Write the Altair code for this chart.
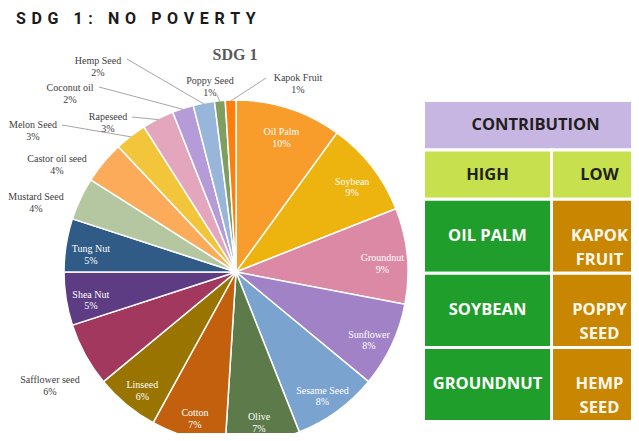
import math
import altair as alt
import pandas as pd

# ---------------- data ----------------
crops = ["Oil Palm", "Soybean", "Groundnut", "Sunflower", "Sesame Seed", "Olive",
         "Cotton", "Linseed", "Safflower seed", "Shea Nut", "Tung Nut", "Mustard Seed",
         "Castor oil seed", "Melon Seed", "Rapeseed", "Coconut oil", "Hemp Seed",
         "Poppy Seed", "Kapok Fruit"]
shares = [10, 9, 9, 8, 8, 7, 7, 6, 6, 5, 5, 4, 4, 3, 3, 2, 2, 1, 1]
slice_colors = ["#F89C2B", "#EDB410", "#DB89A4", "#A282C6", "#7BA3CF", "#5D7A4A",
                "#C2600E", "#997400", "#A3385E", "#5E3C84", "#2F5B86", "#B5C7A0",
                "#FBAB5A", "#F2C53A", "#E4A6BC", "#B59BD7", "#97B6DA", "#7E9E62",
                "#FF7D0A"]
outside = ["Safflower seed", "Mustard Seed", "Castor oil seed", "Melon Seed", "Rapeseed",
           "Coconut oil", "Hemp Seed", "Poppy Seed", "Kapok Fruit"]

table_header = "CONTRIBUTION"
table_cols = ["HIGH", "LOW"]
high_items = ["OIL PALM", "SOYBEAN", "GROUNDNUT"]
low_items = ["KAPOK\nFRUIT", "POPPY\nSEED", "HEMP\nSEED"]

page_title = "SDG 1: NO POVERTY"
pie_title = "SDG 1"

# ---------------- layout ----------------
W, H = 623, 425
CX, CY, R = 228, 264, 172
NB = "\u00a0"
SEP = NB + "\u200a"
spaced_title = SEP.join(NB if ch == " " else ch for ch in page_title)

# outside label anchors (chart px): label centre, leader-line start (None = no line)
LABEL_LAYOUT = {
    "Safflower seed": (42, 372, None),
    "Mustard Seed": (28, 189, None),
    "Castor oil seed": (49, 151, None),
    "Melon Seed": (25, 117, (54, 117)),
    "Rapeseed": (100, 109, (124, 109)),
    "Coconut oil": (62, 80, (91, 79)),
    "Hemp Seed": (90, 53, (119, 51)),
    "Poppy Seed": (202, 73, (209, 87)),
    "Kapok Fruit": (290, 70, (258, 70)),
}

pie_df = pd.DataFrame({"crop": crops, "share": shares, "order": list(range(len(crops)))})
pie_df["inner"] = [("" if c in outside else f"{c}\n{s}%") for c, s in zip(crops, shares)]

color_scale = alt.Scale(domain=crops, range=slice_colors)

base = alt.Chart(pie_df)
arcs = base.mark_arc(outerRadius=R, stroke="white", strokeWidth=1.5).encode(
    theta=alt.Theta("share:Q", stack=True),
    order=alt.Order("order:Q"),
    color=alt.Color("crop:N", scale=color_scale, legend=None),
    x=alt.value(CX), y=alt.value(CY),
)
inner_text = base.mark_text(radius=147, font="Liberation Serif", fontSize=10,
                            color="white", lineBreak="\n", lineHeight=11.5,
                            baseline="middle", align="center").encode(
    theta=alt.Theta("share:Q", stack=True),
    order=alt.Order("order:Q"),
    text="inner:N",
    x=alt.value(CX), y=alt.value(CY),
)

# outside labels + leader lines
cum = 0
mids = {}
for c, s in zip(crops, shares):
    mids[c] = (cum + s / 2) / 100.0
    cum += s
rows, lines = [], []
for c in outside:
    lx, ly, start = LABEL_LAYOUT[c]
    s = shares[crops.index(c)]
    rows.append({"label": f"{c}\n{s}%", "x": lx, "y": ly})
    if start is not None:
        a = mids[c] * 2 * math.pi
        ex = CX + (R - 1) * math.sin(a)
        ey = CY - (R - 1) * math.cos(a)
        lines.append({"x": start[0], "y": start[1], "x2": ex, "y2": ey})
out_df = pd.DataFrame(rows)
line_df = pd.DataFrame(lines)

leaders = alt.Chart(line_df).mark_rule(color="#A6A6A6", strokeWidth=1).encode(
    x=alt.X("x:Q", scale=None), y=alt.Y("y:Q", scale=None),
    x2="x2:Q", y2="y2:Q",
)
outer_text = alt.Chart(out_df).mark_text(font="Liberation Serif", fontSize=10,
                                         color="#404040", lineBreak="\n", lineHeight=11.5,
                                         baseline="middle", align="center").encode(
    x=alt.X("x:Q", scale=None), y=alt.Y("y:Q", scale=None), text="label:N",
)

# ---------------- table ----------------
cells = [{"text": table_header, "x0": 0, "x1": 7, "y0": 0, "y1": 2, "kind": "head"},
         {"text": table_cols[0], "x0": 0, "x1": 4, "y0": 2, "y1": 4, "kind": "sub"},
         {"text": table_cols[1], "x0": 4, "x1": 7, "y0": 2, "y1": 4, "kind": "sub"}]
for i, (h, l) in enumerate(zip(high_items, low_items)):
    cells.append({"text": h, "x0": 0, "x1": 4, "y0": 4 + 3 * i, "y1": 7 + 3 * i, "kind": "high"})
    cells.append({"text": l, "x0": 4, "x1": 7, "y0": 4 + 3 * i, "y1": 7 + 3 * i, "kind": "low"})
cell_df = pd.DataFrame(cells)
cell_df["xm"] = (cell_df.x0 + cell_df.x1) / 2
cell_df["ym"] = (cell_df.y0 + cell_df.y1) / 2

xs = alt.Scale(domain=[0, 7], range=[415.5, 639.5])
ys = alt.Scale(domain=[0, 13], range=[92.5, 413.5])
kinds = ["head", "sub", "high", "low"]
fill_scale = alt.Scale(domain=kinds, range=["#C8B6E2", "#C6E04E", "#1F9E2B", "#C98600"])
text_scale = alt.Scale(domain=kinds, range=["#231F20", "#231F20", "#FFFFFF", "#FFF8EE"])

tbase = alt.Chart(cell_df)
trects = tbase.mark_rect(stroke="white", strokeWidth=3).encode(
    x=alt.X("x0:Q", scale=xs, axis=None), x2="x1:Q",
    y=alt.Y("y0:Q", scale=ys, axis=None), y2="y1:Q",
    fill=alt.Fill("kind:N", scale=fill_scale, legend=None),
)
ttext = tbase.mark_text(font="Open Sans", fontWeight="bold", fontSize=16.5,
                        lineBreak="\n", lineHeight=24, baseline="middle",
                        align="center").encode(
    x=alt.X("xm:Q", scale=xs, axis=None),
    y=alt.Y("ym:Q", scale=ys, axis=None),
    text="text:N",
    color=alt.Color("kind:N", scale=text_scale, legend=None),
)

# ---------------- titles ----------------
title_df = pd.DataFrame({"t": [spaced_title]})
ptitle = alt.Chart(title_df).mark_text(font="Roboto", fontWeight="bold", fontSize=16,
                                       color="#1A1A1A", align="left",
                                       baseline="alphabetic").encode(
    x=alt.value(8), y=alt.value(16), text="t:N")
sub_df = pd.DataFrame({"t": [pie_title]})
stitle = alt.Chart(sub_df).mark_text(font="Liberation Serif", fontWeight="bold",
                                     fontSize=16, color="#595959", align="center",
                                     baseline="alphabetic").encode(
    x=alt.value(227), y=alt.value(52), text="t:N")

chart = alt.layer(arcs, inner_text, leaders, outer_text, trects, ttext, ptitle, stitle).resolve_scale(
    color="independent"
).properties(
    width=W, height=H, padding=0, autosize="none"
).configure_view(stroke=None)

chart.save("out.html", embed_options={"renderer": "svg", "actions": False})
